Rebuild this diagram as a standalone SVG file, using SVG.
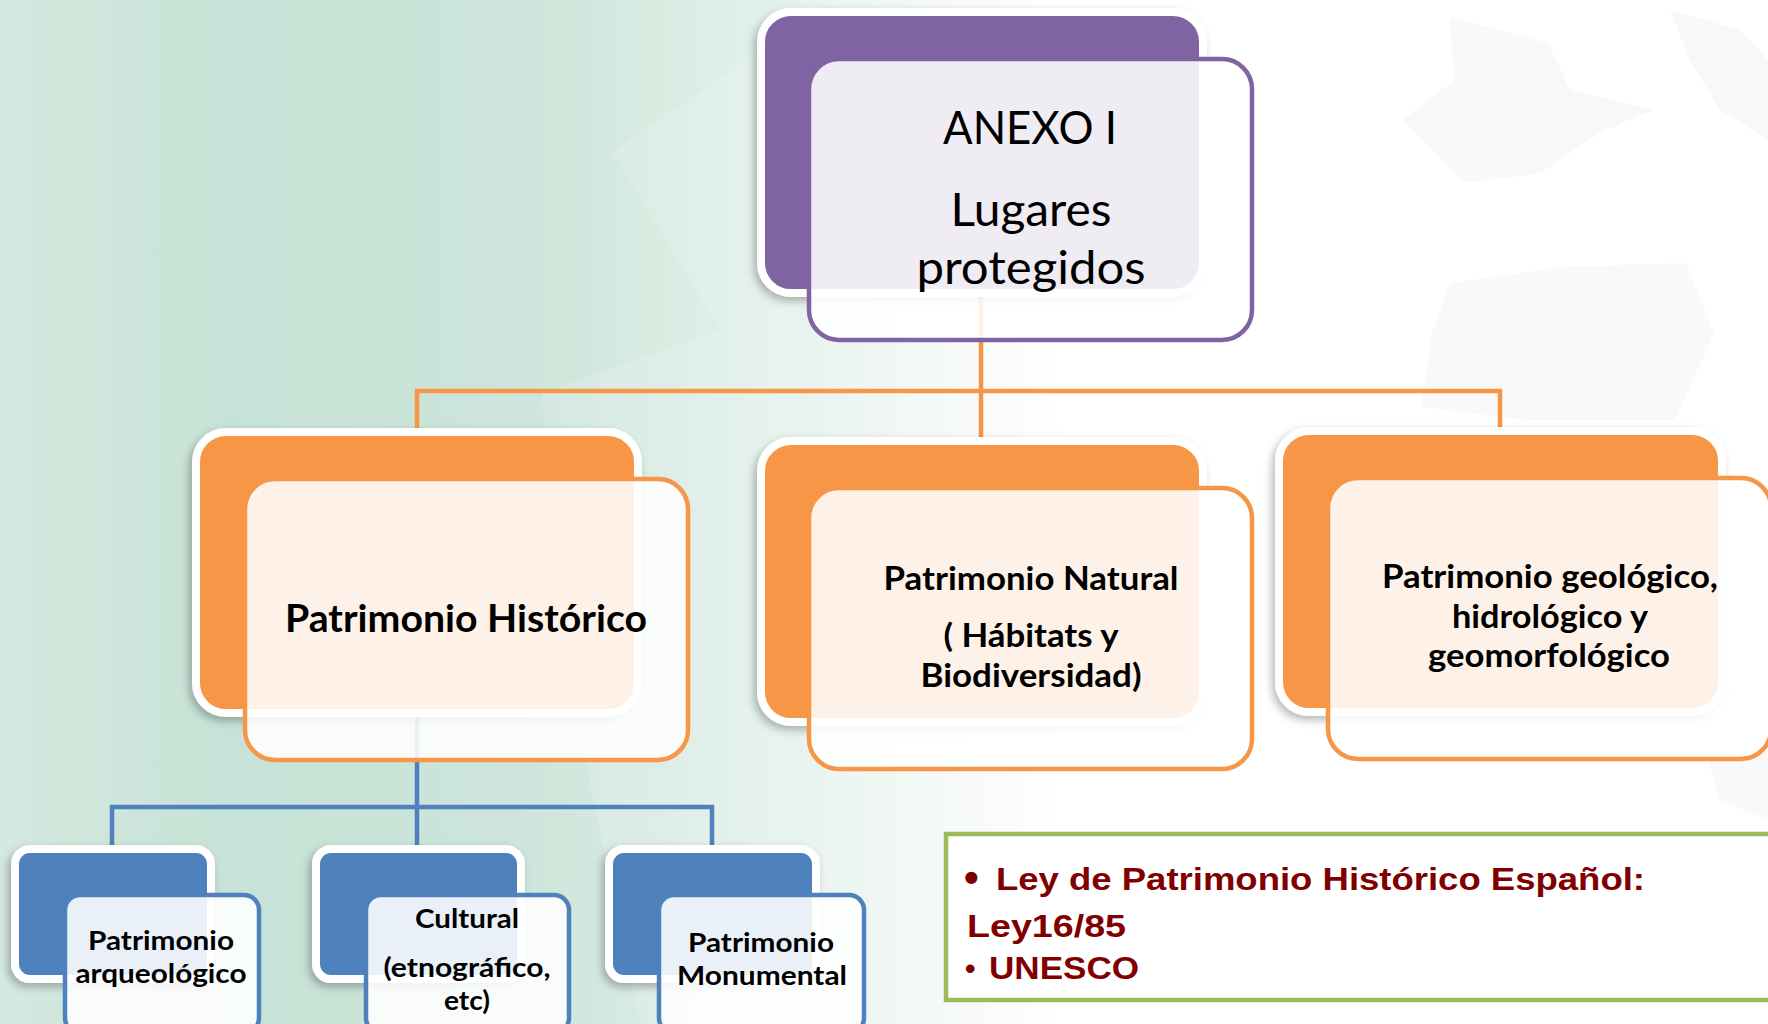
<svg xmlns="http://www.w3.org/2000/svg" width="1768" height="1024" viewBox="0 0 1768 1024">
<defs>
  <linearGradient id="bg" x1="0" y1="0" x2="1768" y2="0" gradientUnits="userSpaceOnUse">
    <stop offset="0" stop-color="#D4E9DF"/>
    <stop offset="0.13" stop-color="#C7E2D6"/>
    <stop offset="0.3" stop-color="#CDE5DA"/>
    <stop offset="0.4" stop-color="#DCEEE5"/>
    <stop offset="0.5" stop-color="#EEF6F2"/>
    <stop offset="0.6" stop-color="#FFFFFF"/>
    <stop offset="1" stop-color="#FFFFFF"/>
  </linearGradient>
  <filter id="sh" x="-10%" y="-10%" width="125%" height="130%">
    <feDropShadow dx="-3" dy="4" stdDeviation="4" flood-color="#000" flood-opacity="0.28"/>
  </filter>
</defs>
<style>
  .back { stroke:#FFFFFF; stroke-width:8; filter:url(#sh); }
  .bp { fill:#8064A2; }
  .bo { fill:#F79646; }
  .bb { fill:#4F81BD; }
  .front { fill:#FFFFFF; fill-opacity:0.88; stroke-width:4.5; }
  .fp { stroke:#8064A2; }
  .fo { stroke:#F79646; }
  .fb { stroke:#4F81BD; }
  .t { font-family:Lato, "Liberation Sans", sans-serif; fill:#000; text-anchor:middle; }
  .b { font-weight:bold; }
  .conn { fill:none; stroke-width:4.5; }
  .co { stroke:#F79646; }
  .cb { stroke:#4F81BD; }
  .ley { font-family:"Liberation Sans", Arial, sans-serif; font-weight:bold; fill:#800000; }
</style>

<rect x="0" y="0" width="1768" height="1024" fill="url(#bg)"/>
<polygon points="790,30 612,152 721,330 542,393 556,620 640,1024 1000,1024 1000,0 800,0" fill="#FFFFFF" opacity="0.14"/>
<g fill="#EDEDED" opacity="0.35">
  <polygon points="1450,17 1548,43 1570,90 1653,110 1599,133 1541,173 1464,183 1403,120 1454,80"/>
  <polygon points="1450,283 1562,267 1686,263 1714,333 1675,420 1526,420 1421,407 1432,333"/>
  <polygon points="1670,10 1740,30 1768,60 1768,140 1720,110 1690,60"/>
  <polygon points="1690,700 1768,680 1768,820 1720,800"/>
</g>

<g id="connectors">
  <path class="conn co" d="M981,289 V391 M417,432 V391 H1500 V431 M981,391 V441"/>
  <path class="conn cb" d="M417,709 V807 M112,849 V807 H712 V849 M417,807 V849"/>
</g>

<g id="anexo">
  <rect class="back bp" x="761" y="12" width="442" height="281" rx="30"/>
  <rect class="front fp" x="809" y="59" width="443" height="281" rx="30"/>
  <text class="t" x="1030" y="144" font-size="46" textLength="174" lengthAdjust="spacingAndGlyphs">ANEXO I</text>
  <text class="t" x="1031" y="226" font-size="46" textLength="161" lengthAdjust="spacingAndGlyphs">Lugares</text>
  <text class="t" x="1031" y="284" font-size="46" textLength="229" lengthAdjust="spacingAndGlyphs">protegidos</text>
</g>

<g id="historico">
  <rect class="back bo" x="196" y="432" width="442" height="281" rx="30"/>
  <rect class="front fo" x="245" y="479" width="443" height="281" rx="30"/>
  <text class="t b" x="466" y="632" font-size="38" textLength="362" lengthAdjust="spacingAndGlyphs">Patrimonio Histórico</text>
</g>

<g id="natural">
  <rect class="back bo" x="761" y="441" width="442" height="281" rx="30"/>
  <rect class="front fo" x="809" y="488" width="443" height="281" rx="30"/>
  <text class="t b" x="1031" y="590" font-size="32" textLength="295" lengthAdjust="spacingAndGlyphs">Patrimonio Natural</text>
  <text class="t b" x="1031" y="647" font-size="32" textLength="175" lengthAdjust="spacingAndGlyphs">( Hábitats y</text>
  <text class="t b" x="1031" y="687" font-size="32" textLength="221" lengthAdjust="spacingAndGlyphs">Biodiversidad)</text>
</g>

<g id="geologico">
  <rect class="back bo" x="1279" y="431" width="443" height="281" rx="30"/>
  <rect class="front fo" x="1328" y="478" width="443" height="281" rx="30"/>
  <text class="t b" x="1550" y="588" font-size="32" textLength="336" lengthAdjust="spacingAndGlyphs">Patrimonio geológico,</text>
  <text class="t b" x="1550" y="628" font-size="32" textLength="196" lengthAdjust="spacingAndGlyphs">hidrológico y</text>
  <text class="t b" x="1549" y="667" font-size="32" textLength="242" lengthAdjust="spacingAndGlyphs">geomorfológico</text>
</g>

<g id="arqueologico">
  <rect class="back bb" x="15" y="849" width="196" height="130" rx="15"/>
  <rect class="front fb" x="65" y="895" width="194" height="138" rx="15"/>
  <text class="t b" x="161" y="950" font-size="27" textLength="146" lengthAdjust="spacingAndGlyphs">Patrimonio</text>
  <text class="t b" x="161" y="983" font-size="27" textLength="171" lengthAdjust="spacingAndGlyphs">arqueológico</text>
</g>

<g id="cultural">
  <rect class="back bb" x="316" y="849" width="205" height="130" rx="15"/>
  <rect class="front fb" x="366" y="895" width="203" height="138" rx="15"/>
  <text class="t b" x="467" y="928" font-size="27" textLength="104" lengthAdjust="spacingAndGlyphs">Cultural</text>
  <text class="t b" x="467" y="977" font-size="27" textLength="167" lengthAdjust="spacingAndGlyphs">(etnográfico,</text>
  <text class="t b" x="467" y="1010" font-size="27" textLength="46" lengthAdjust="spacingAndGlyphs">etc)</text>
</g>

<g id="monumental">
  <rect class="back bb" x="609" y="849" width="207" height="130" rx="15"/>
  <rect class="front fb" x="659" y="895" width="205" height="138" rx="15"/>
  <text class="t b" x="761" y="952" font-size="27" textLength="146" lengthAdjust="spacingAndGlyphs">Patrimonio</text>
  <text class="t b" x="762" y="985" font-size="27" textLength="170" lengthAdjust="spacingAndGlyphs">Monumental</text>
</g>

<g id="leyes">
  <rect x="946" y="834" width="840" height="166" fill="#FFFFFF" stroke="#9BBB59" stroke-width="4.5"/>
  <text class="ley" x="964" y="892" font-size="42">•</text>
  <text class="ley" x="996" y="890" font-size="31" textLength="649" lengthAdjust="spacingAndGlyphs">Ley de Patrimonio Histórico Español:</text>
  <text class="ley" x="967" y="937" font-size="31" textLength="159" lengthAdjust="spacingAndGlyphs">Ley16/85</text>
  <text class="ley" x="965" y="979" font-size="30">•</text>
  <text class="ley" x="989" y="979" font-size="31" textLength="150" lengthAdjust="spacingAndGlyphs">UNESCO</text>
</g>
</svg>
